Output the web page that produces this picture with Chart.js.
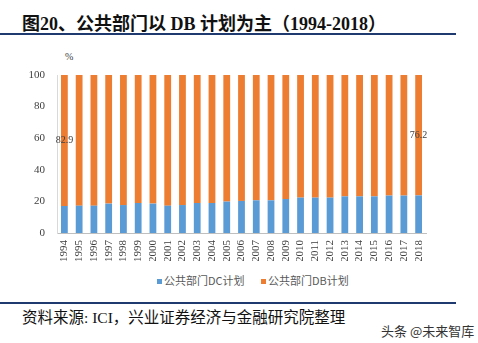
<!DOCTYPE html>
<html>
<head>
<meta charset="utf-8">
<script src="https://cdn.jsdelivr.net/npm/chart.js@4"></script>
<style>
  body { margin: 0; background: #fff; width: 478px; height: 343px; position: relative; overflow: hidden; }
  .title { position: absolute; left: 22px; top: 9px; font: bold 18px "Liberation Serif", "Noto Sans CJK SC"; color: #111; white-space: nowrap; }
  .rule { position: absolute; left: 0; width: 456px; height: 2px; background: #1f3a6e; }
  .unit { position: absolute; left: 65px; top: 51px; font: 10px "Liberation Serif"; color: #404040; }
  .key { position: absolute; top: 272px; font: 11px "Noto Sans CJK SC"; line-height: 16px; color: #595959; white-space: nowrap; }
  .key i { display: inline-block; width: 5px; height: 5px; margin-right: 2px; vertical-align: 1px; }
  .source { position: absolute; left: 22px; top: 305px; font: 15.5px "Liberation Serif", "Noto Sans CJK SC"; color: #111; white-space: nowrap; }
  .mark { position: absolute; left: 381px; top: 321px; font: 13px "Noto Sans CJK SC"; color: #333; white-space: nowrap; }
  canvas { position: absolute; left: 0; top: 40px; }
</style>
</head>
<body>
<div class="title">图20、公共部门以 DB 计划为主（1994-2018）</div>
<div class="rule" style="top:33px"></div>
<div class="unit">%</div>
<canvas id="planChart" width="478" height="221"></canvas>
<div class="key" style="left:157px"><i style="background:#5b9bd5"></i>公共部门DC计划</div>
<div class="key" style="left:261px"><i style="background:#ed7d31"></i>公共部门DB计划</div>
<div class="rule" style="top:302px"></div>
<div class="source">资料来源: ICI，兴业证券经济与金融研究院整理</div>
<div class="mark">头条 @未来智库</div>
<script>
// years and share of each plan type (%)
const years = ['1994', '1995', '1996', '1997', '1998', '1999', '2000', '2001', '2002', '2003', '2004', '2005',
  '2006', '2007', '2008', '2009', '2010', '2011', '2012', '2013', '2014', '2015', '2016', '2017', '2018'];
const dcShare = [17.1, 17.3, 17.3, 18.6, 17.7, 19.0, 18.6, 17.3, 17.7, 19.0, 19.0, 19.9,
  20.3, 20.7, 20.7, 21.5, 22.4, 22.4, 22.4, 23.2, 23.2, 23.2, 23.7, 23.7, 23.8];
const dbShare = [82.9, 82.7, 82.7, 81.4, 82.3, 81.0, 81.4, 82.7, 82.3, 81.0, 81.0, 80.1,
  79.7, 79.3, 79.3, 78.5, 77.6, 77.6, 77.6, 76.8, 76.8, 76.8, 76.3, 76.3, 76.2];
const yTicks = [0, 20, 40, 60, 80, 100];
const labelled = [0, years.length - 1]; // only first and last DB value get a label

// write the DB share in the middle of the orange segment
const segmentLabels = {
  id: 'segmentLabels',
  afterDatasetsDraw(chart) {
    const ctx = chart.ctx;
    const meta = chart.getDatasetMeta(1);
    ctx.save();
    ctx.font = '10px "Liberation Serif"';
    ctx.fillStyle = '#404040';
    ctx.textAlign = 'center';
    ctx.textBaseline = 'middle';
    labelled.forEach(i => {
      const bar = meta.data[i];
      ctx.fillText(dbShare[i].toFixed(1), bar.x, (bar.y + bar.base) / 2);
    });
    ctx.restore();
  }
};

new Chart(document.getElementById('planChart'), {
  type: 'bar',
  data: {
    labels: years,
    datasets: [
      { label: '公共部门DC计划', data: dcShare, backgroundColor: '#5b9bd5' },
      { label: '公共部门DB计划', data: dbShare, backgroundColor: '#ed7d31' }
    ]
  },
  options: {
    responsive: false,
    animation: false,
    layout: { padding: { top: 35, right: 52, bottom: 0, left: 0 } },
    datasets: { bar: { barPercentage: 0.46, categoryPercentage: 1 } },
    plugins: {
      tooltip: { enabled: false },
      legend: { display: false }
    },
    scales: {
      x: {
        stacked: true,
        afterFit(scale) { scale.height = 28; },
        grid: { display: false, drawTicks: false },
        border: { color: '#bfbfbf' },
        ticks: {
          autoSkip: false,
          minRotation: 90, maxRotation: 90, padding: 7,
          color: '#404040',
          font: { family: '"Liberation Serif"', size: 11 }
        }
      },
      y: {
        stacked: true,
        min: 0, max: 100,
        afterFit(scale) { scale.width = 57; },
        afterBuildTicks(scale) { scale.ticks = yTicks.map(v => ({ value: v })); },
        grid: { display: false, drawTicks: false },
        border: { color: '#d9d9d9' },
        ticks: {
          padding: 12,
          color: '#404040',
          font: { family: '"Liberation Serif"', size: 11 }
        }
      }
    }
  },
  plugins: [segmentLabels]
});
</script>
</body>
</html>
